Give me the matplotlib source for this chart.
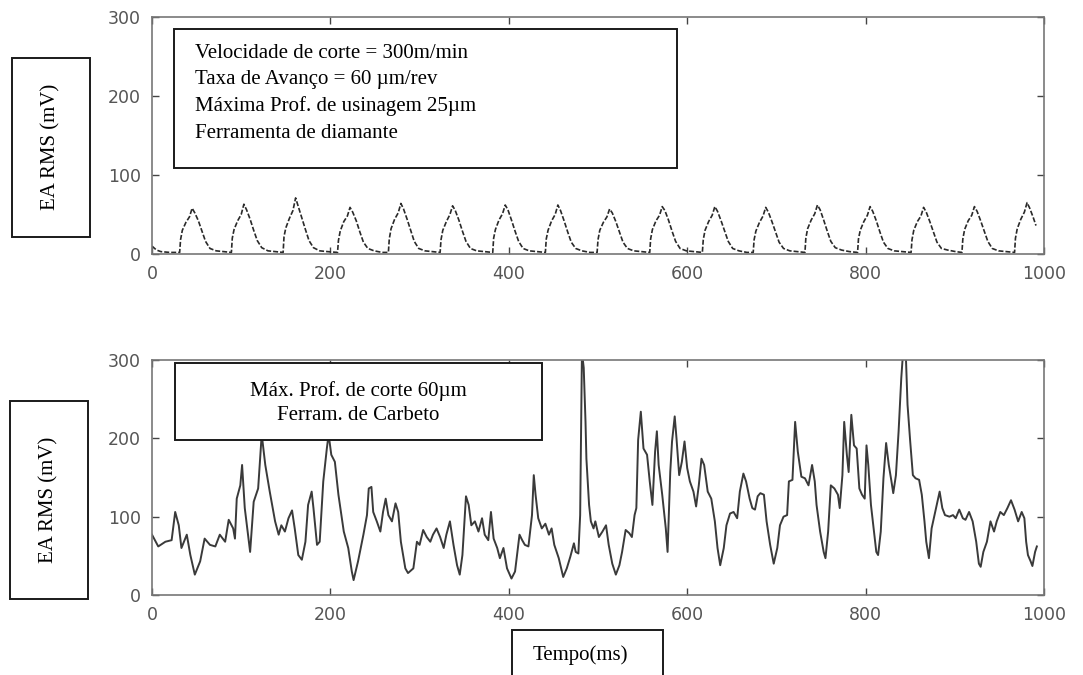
import matplotlib
matplotlib.use('Agg')
import matplotlib.pyplot as plt
from matplotlib.patches import Rectangle
import numpy as np

plt.rcParams['font.family'] = 'DejaVu Sans'

W, H = 1083, 675

# EA RMS com ferramenta de diamante (ms, mV)
t_diam = [0, 2, 5, 10, 20,
          31, 32, 34, 38, 42, 45, 48, 52, 56, 60, 65, 72, 81,
          89, 90, 92, 96, 100, 103, 106, 110, 114, 118, 123, 130, 139,
          147, 148, 150, 154, 158, 161, 164, 168, 172, 176, 181, 188, 197,
          208, 209, 211, 215, 219, 222, 225, 229, 233, 237, 242, 249, 258,
          265, 266, 268, 272, 276, 279, 282, 286, 290, 294, 299, 306, 315,
          323, 324, 326, 330, 334, 337, 340, 344, 348, 352, 357, 364, 373,
          382, 383, 385, 389, 393, 396, 399, 403, 407, 411, 416, 423, 432,
          441, 442, 444, 448, 452, 455, 458, 462, 466, 470, 475, 482, 491,
          499, 500, 502, 506, 510, 513, 516, 520, 524, 528, 533, 540, 549,
          558, 559, 561, 565, 569, 572, 575, 579, 583, 587, 592, 599, 608,
          617, 618, 620, 624, 628, 631, 634, 638, 642, 646, 651, 658, 667,
          674, 675, 677, 681, 685, 688, 691, 695, 699, 703, 708, 715, 724,
          732, 733, 735, 739, 743, 746, 749, 753, 757, 761, 766, 773, 782,
          791, 792, 794, 798, 802, 805, 808, 812, 816, 820, 825, 832, 841,
          851, 852, 854, 858, 862, 865, 868, 872, 876, 880, 885, 892, 901,
          908, 909, 911, 915, 919, 922, 925, 929, 933, 937, 942, 949, 958,
          967, 968, 970, 974, 978, 981, 984, 988, 991]
ea_diam = [10, 8, 5, 3, 2,
           2, 18, 30, 40, 47, 58, 52, 42, 29, 16, 7, 4, 3,
           2, 20, 31, 42, 50, 63, 56, 44, 30, 17, 8, 4, 3,
           2, 22, 33, 45, 55, 71, 60, 45, 31, 17, 8, 4, 3,
           2, 17, 29, 41, 48, 59, 53, 42, 28, 15, 7, 4, 2,
           2, 19, 32, 44, 52, 64, 57, 44, 30, 16, 7, 4, 3,
           2, 18, 30, 41, 50, 61, 55, 43, 29, 16, 7, 4, 3,
           2, 20, 31, 43, 51, 62, 56, 43, 29, 16, 7, 4, 3,
           2, 19, 30, 42, 50, 62, 55, 42, 28, 15, 7, 4, 2,
           2, 18, 30, 40, 47, 57, 52, 41, 28, 15, 7, 4, 3,
           2, 19, 31, 42, 49, 60, 55, 43, 29, 16, 7, 4, 3,
           2, 18, 30, 41, 49, 60, 54, 42, 29, 16, 7, 4, 2,
           2, 18, 29, 40, 48, 59, 53, 41, 28, 15, 7, 4, 3,
           2, 20, 32, 43, 51, 62, 56, 43, 29, 16, 8, 5, 3,
           2, 19, 30, 41, 49, 60, 54, 42, 28, 15, 7, 4, 3,
           2, 18, 30, 41, 48, 59, 53, 41, 28, 15, 7, 5, 3,
           2, 19, 31, 42, 49, 60, 54, 42, 29, 16, 7, 4, 3,
           2, 20, 32, 44, 53, 65, 58, 46, 36]

# EA RMS com ferramenta de carbeto (ms, mV)
t_carb = [0, 7, 15, 22, 26, 30, 33, 39, 43, 48, 54, 59, 65, 71, 76, 82, 86, 91, 93, 95,
          99, 101, 104, 110, 114, 119, 123, 127, 132, 138, 142, 145, 149, 153, 157, 160,
          164, 168, 172, 175, 179, 181, 185, 188, 192, 196, 198, 201, 205, 209, 215, 220,
          224, 226, 231, 237, 241, 243, 246, 248, 252, 256, 259, 262, 265, 269, 273, 276,
          279, 284, 287, 293, 297, 300, 304, 308, 312, 315, 319, 323, 327, 330, 334, 338,
          342, 345, 348, 352, 355, 358, 362, 366, 370, 373, 377, 380, 383, 387, 390, 394,
          398, 403, 407, 412, 415, 418, 422, 426, 428, 430, 433, 437, 441, 445, 448, 451,
          456, 461, 465, 469, 473, 475, 478, 480, 482, 484, 486, 487, 490, 492, 495, 497,
          501, 505, 509, 512, 516, 520, 524, 527, 531, 535, 538, 541, 543, 545, 548, 551,
          555, 558, 561, 564, 566, 568, 572, 576, 578, 581, 583, 586, 588, 591, 594, 597,
          600, 603, 607, 610, 613, 616, 619, 623, 627, 631, 634, 637, 641, 644, 648, 652,
          656, 659, 663, 666, 670, 673, 676, 679, 682, 686, 689, 693, 697, 701, 704, 708,
          712, 714, 718, 721, 724, 728, 732, 736, 739, 740, 743, 745, 749, 753, 755, 758,
          761, 765, 769, 771, 774, 776, 779, 781, 784, 787, 790, 793, 796, 799, 801, 803,
          806, 809, 812, 814, 817, 820, 823, 826, 829, 831, 834, 837, 840, 842, 845, 847,
          850, 853, 856, 860, 863, 866, 868, 871, 874, 878, 883, 886, 889, 894, 898, 901,
          905, 909, 912, 916, 920, 924, 927, 929, 932, 936, 940, 944, 947, 951, 955, 959,
          963, 967, 971, 975, 978, 980, 982, 985, 987, 990, 992]
ea_carb = [77, 62, 68, 70, 106, 89, 60, 77, 51, 26, 43, 72, 64, 62, 77, 68, 96, 85, 72, 123,
           140, 166, 111, 55, 119, 136, 205, 166, 132, 94, 77, 89, 81, 98, 108, 85,
           51, 45, 68, 115, 132, 111, 64, 68, 145, 187, 205, 179, 170, 128, 81, 60,
           30, 19, 43, 77, 102, 136, 138, 106, 94, 81, 106, 123, 102, 94, 117, 106,
           68, 34, 28, 34, 68, 64, 83, 74, 68, 77, 85, 74, 60, 77, 94, 64,
           38, 26, 51, 126, 115, 89, 94, 81, 98, 77, 70, 106, 72, 60, 47, 60,
           34, 21, 30, 77, 70, 64, 62, 102, 153, 128, 98, 85, 91, 77, 85, 64,
           47, 23, 34, 49, 66, 55, 53, 102, 310, 290, 221, 174, 115, 94, 85, 94,
           74, 81, 89, 64, 40, 26, 38, 55, 83, 79, 74, 102, 111, 198, 234, 187,
           179, 145, 115, 183, 209, 166, 128, 85, 55, 157, 196, 228, 200, 153, 170, 196,
           162, 145, 132, 113, 140, 174, 166, 132, 123, 94, 60, 38, 60, 89, 104, 106,
           98, 132, 155, 145, 123, 111, 109, 126, 130, 128, 94, 64, 40, 60, 89, 100,
           102, 145, 147, 221, 183, 151, 149, 140, 160, 166, 145, 115, 81, 55, 47, 81,
           140, 136, 128, 111, 153, 221, 179, 157, 230, 191, 187, 136, 128, 123, 191, 166,
           115, 85, 55, 51, 81, 149, 194, 166, 145, 130, 153, 209, 277, 310, 310, 243,
           196, 153, 149, 147, 128, 94, 68, 47, 85, 106, 132, 111, 102, 100, 102, 98,
           109, 98, 96, 106, 94, 68, 40, 36, 55, 68, 94, 81, 94, 106, 102, 111,
           121, 109, 94, 106, 98, 68, 51, 43, 37, 55, 62]

x_ticks = [0, 200, 400, 600, 800, 1000]
y_ticks = [0, 100, 200, 300]

legenda_diam = ['Velocidade de corte = 300m/min',
                'Taxa de Avanço = 60 µm/rev',
                'Máxima Prof. de usinagem 25µm',
                'Ferramenta de diamante']
legenda_carb = ['Máx. Prof. de corte 60µm', 'Ferram. de Carbeto']


def fx(x):
    return x / W


def fy(y):
    return 1 - y / H


def caixa(fig, x0, y0, x1, y1):
    # retangulo em pixels da figura, fundo branco por cima dos eixos
    r = Rectangle((fx(x0), fy(y1)), fx(x1) - fx(x0), fy(y0) - fy(y1),
                  transform=fig.transFigure, facecolor='white',
                  edgecolor='#1a1a1a', linewidth=1.4, zorder=5)
    fig.add_artist(r)


def estilo_eixo(ax):
    ax.set_xlim(0, 1000)
    ax.set_ylim(0, 300)
    ax.set_xticks(x_ticks)
    ax.set_yticks(y_ticks)
    ax.tick_params(direction='in', length=5, width=1, color='#444',
                   top=True, right=True, labelsize=12.5, labelcolor='#555')
    ax.tick_params(axis='x', pad=8)
    ax.tick_params(axis='y', pad=8)
    for s in ax.spines.values():
        s.set_color('#777')
        s.set_linewidth(1.2)
        s.set_linestyle((0, (3, 1)))


fig = plt.figure(figsize=(W / 100, H / 100), dpi=100)
ax1 = fig.add_axes([fx(152), fy(254), fx(1044) - fx(152), fy(17) - fy(254)])
ax2 = fig.add_axes([fx(152), fy(595), fx(1044) - fx(152), fy(360) - fy(595)])

ax1.plot(t_diam, ea_diam, color='#2a2a2a', linewidth=1.2, linestyle=(0, (3, 1.2)))
estilo_eixo(ax1)

ax2.plot(t_carb, ea_carb, color='#3a3a3a', linewidth=1.4)
estilo_eixo(ax2)

serif = 'Liberation Serif'

# caixas dos rotulos do eixo y
caixa(fig, 12, 58, 90, 237)
fig.text(fx(51), fy(147), 'EA RMS (mV)', rotation=90, ha='center', va='center',
         family=serif, fontsize=15, zorder=6)
caixa(fig, 10, 401, 88, 599)
fig.text(fx(49), fy(500), 'EA RMS (mV)', rotation=90, ha='center', va='center',
         family=serif, fontsize=15, zorder=6)

# condicoes de corte
caixa(fig, 174, 29, 677, 168)
for i, linha in enumerate(legenda_diam):
    fig.text(fx(195), fy(53 + 26.7 * i), linha, ha='left', va='center',
             family=serif, fontsize=15, zorder=6)

caixa(fig, 175, 363, 542, 440)
for i, linha in enumerate(legenda_carb):
    fig.text(fx(358), fy(391 + 24 * i), linha, ha='center', va='center',
             family=serif, fontsize=15, zorder=6)

# rotulo do eixo x
caixa(fig, 512, 630, 663, 690)
fig.text(fx(580), fy(655), 'Tempo(ms)', ha='center', va='center',
         family=serif, fontsize=15, zorder=6)

fig.savefig('out.png', dpi=100)
